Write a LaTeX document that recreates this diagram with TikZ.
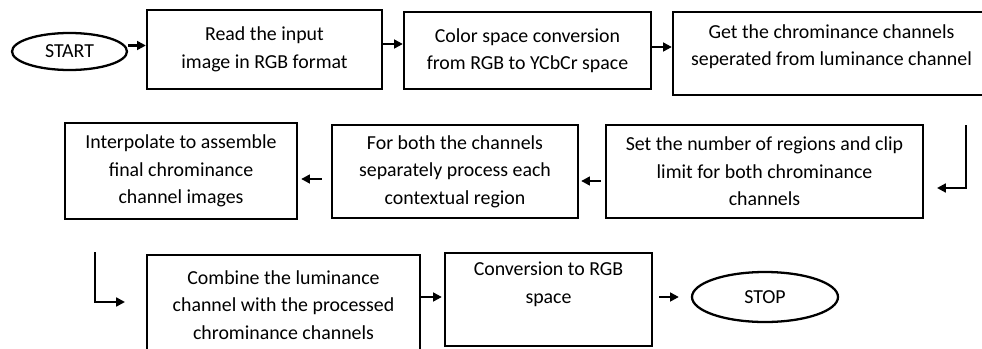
\documentclass[tikz,border=0pt]{standalone}
\usepackage{fontspec}
\setmainfont{Carlito}
\usepackage{tikz}
\usetikzlibrary{arrows.meta, positioning, shapes.geometric}

\begin{document}
\begin{tikzpicture}[
    block/.style={draw, line width=1.3pt, align=center, inner sep=0pt,
        font=\fontsize{11.3}{15.6}\selectfont},
    terminal/.style={draw, ellipse, line width=1.3pt, inner sep=0pt,
        font=\fontsize{11.3}{15.6}\selectfont},
    flow/.style={->, line width=1.3pt},
    >={Triangle[length=5pt, width=5pt]},
]
    \useasboundingbox (0,0) rectangle (19.64,-6.96);

    % first row
    \node[terminal, minimum width=2.3cm, minimum height=0.74cm] (start) at (1.39,-1.03) {START};
    \node[block, minimum width=4.7cm, minimum height=1.58cm] (readimg) at (5.29,-0.99)
        {Read the input\\image in RGB format};
    \node[block, minimum width=4.94cm, minimum height=1.54cm] (convert) at (10.55,-1.01)
        {Color space conversion\\from RGB to YCbCr space};
    \node[block, minimum width=6.34cm, minimum height=1.66cm, text depth=0.34cm] (getchroma) at (16.63,-1.07)
        {Get the chrominance channels\\seperated from luminance channel};

    % second row, right to left
    \node[block, minimum width=6.34cm, minimum height=1.86cm] (setclip) at (15.29,-3.43)
        {Set the number of regions and clip\\limit for both chrominance\\channels};
    \node[block, minimum width=4.92cm, minimum height=1.86cm] (process) at (9.10,-3.43)
        {For both the channels\\separately process each\\contextual region};
    \node[block, minimum width=4.64cm, minimum height=1.92cm] (interp) at (3.62,-3.42)
        {Interpolate to assemble\\final chrominance\\channel images};

    % third row
    \node[block, minimum width=5.46cm, minimum height=2cm] (combine) at (5.67,-6.10)
        {Combine the luminance\\channel with the processed\\chrominance channels};
    \node[block, minimum width=4.14cm, minimum height=1.86cm, text depth=0.68cm] (torgb) at (10.97,-5.99)
        {Conversion to RGB\\space};
    \node[terminal, minimum width=2.92cm, minimum height=1cm] (stop) at (15.30,-5.94) {STOP};

    % turns between the rows
    \coordinate (downA) at (19.32,-2.5);
    \coordinate (endA) at (18.74,-3.76);
    \coordinate (downB) at (1.9,-5.04);
    \coordinate (endB) at (2.5,-6.04);

    \draw[flow] ([yshift=0.12cm]start.east) -- ([yshift=0.12cm]start.east -| readimg.west);
    \draw[flow] ([yshift=0.11cm]readimg.east) -- ([yshift=0.11cm]readimg.east -| convert.west);
    \draw[flow] ([yshift=0.07cm]convert.east) -- ([yshift=0.07cm]convert.east -| getchroma.west);
    \draw[flow] (downA) |- (endA);
    \draw[flow, shorten <=0.08cm, shorten >=0.04cm] ([yshift=-0.19cm]setclip.west) -- ([yshift=-0.19cm]setclip.west -| process.east);
    \draw[flow, shorten <=0.18cm, shorten >=0.06cm] ([yshift=-0.15cm]process.west) -- ([yshift=-0.15cm]process.west -| interp.east);
    \draw[flow] (downB) |- (endB);
    \draw[flow, shorten >=0.04cm] ([yshift=0.16cm]combine.east) -- ([yshift=0.16cm]combine.east -| torgb.west);
    \draw[flow, shorten <=0.12cm, shorten >=0.24cm] ([yshift=0.05cm]torgb.east) -- ([yshift=0.05cm]torgb.east -| stop.west);
\end{tikzpicture}
\end{document}
